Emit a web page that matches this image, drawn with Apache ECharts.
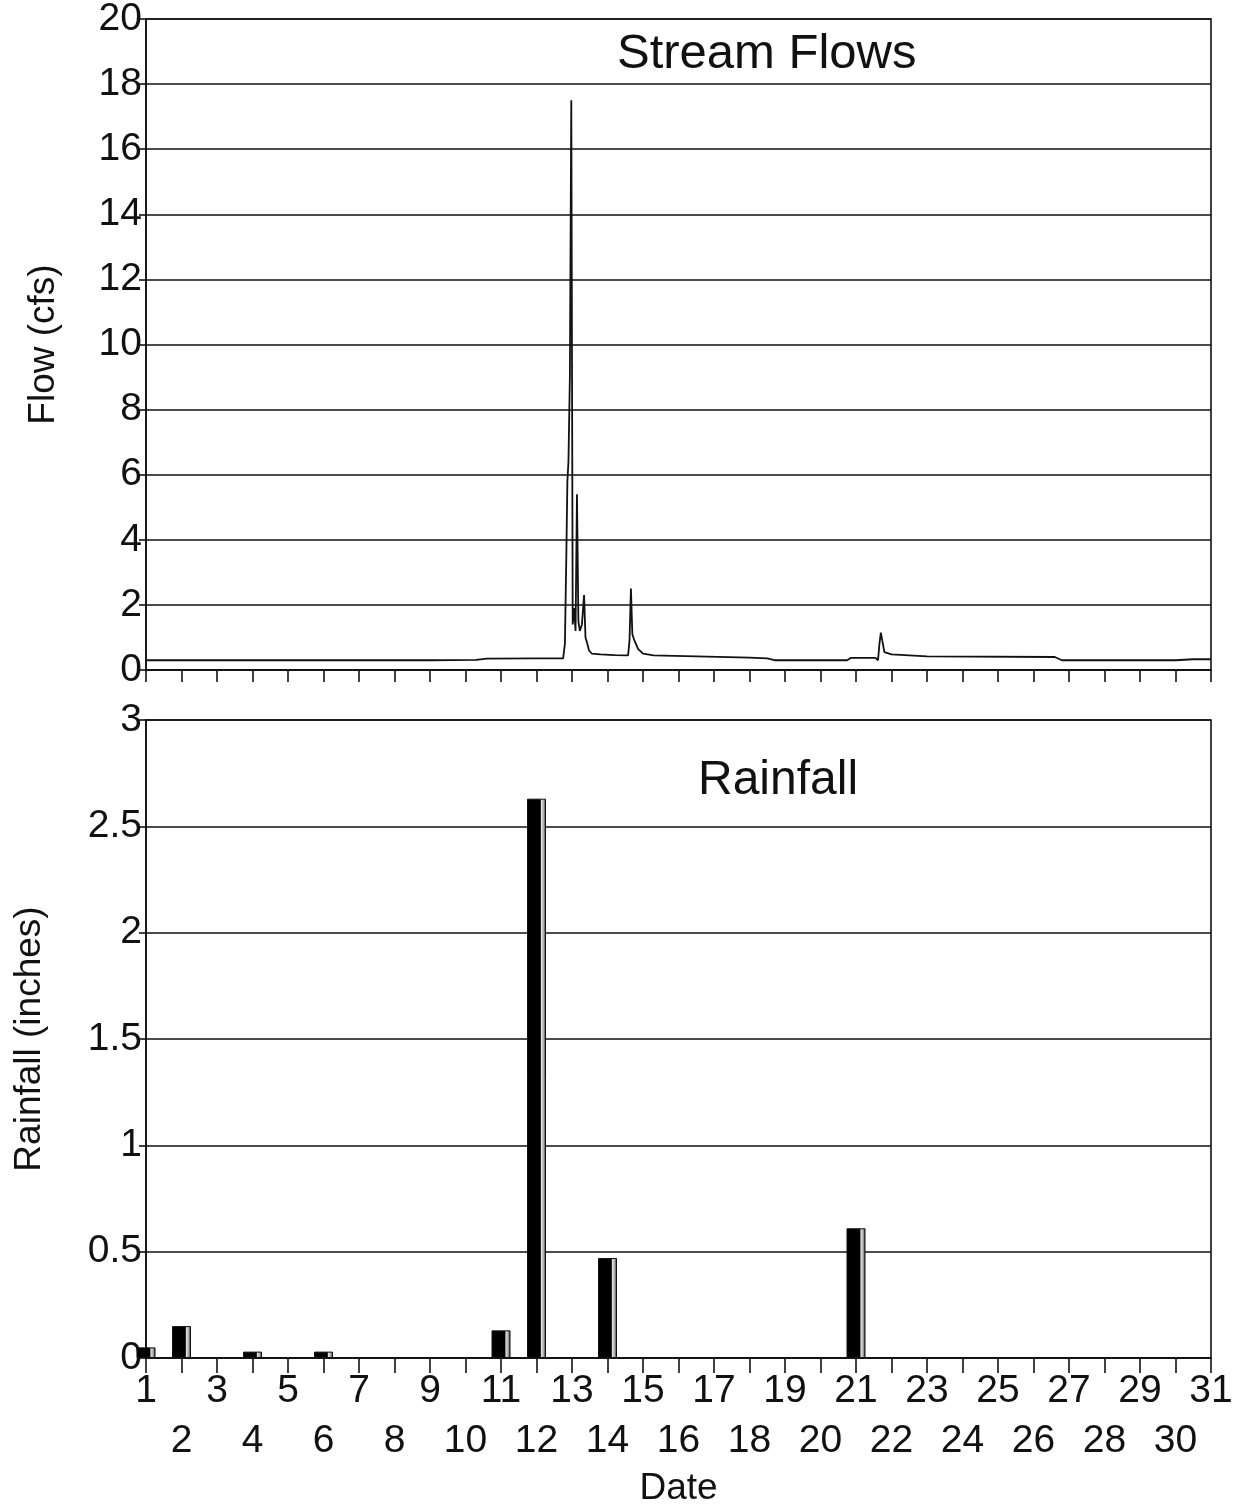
<!DOCTYPE html>
<html>
<head>
<meta charset="utf-8">
<script src="https://cdn.jsdelivr.net/npm/echarts@6/dist/echarts.min.js"></script>
<style>
html, body { margin: 0; background: #fff; }
#chart { width: 1241px; height: 1505px; }
</style>
</head>
<body>
<div id="chart"></div>
<script>
// stream flow readings (day of month, cfs)
const flowDays = [1, 3, 5, 7, 9, 10.3, 10.6, 12, 12.75, 12.8, 12.84, 12.87, 12.9, 12.94, 12.98, 13.02, 13.06, 13.1, 13.14, 13.18, 13.22, 13.28, 13.34, 13.38, 13.42, 13.48, 13.56, 13.8, 14.2, 14.58, 14.62, 14.66, 14.7, 14.76, 14.86, 15, 15.3, 16.5, 18, 18.5, 18.7, 20, 20.75, 20.85, 21.55, 21.62, 21.66, 21.7, 21.74, 21.8, 22, 23, 26.6, 26.8, 30, 30.5, 31];
const flowCfs = [0.3, 0.3, 0.3, 0.3, 0.3, 0.31, 0.35, 0.36, 0.36, 0.8, 3.5, 5.8, 6.4, 9, 17.5, 1.4, 1.9, 1.2, 5.4, 1.5, 1.2, 1.4, 2.3, 1.0, 0.85, 0.6, 0.5, 0.48, 0.46, 0.45, 0.9, 2.5, 1.1, 0.9, 0.65, 0.5, 0.45, 0.42, 0.38, 0.36, 0.3, 0.3, 0.3, 0.37, 0.37, 0.3, 0.8, 1.15, 0.9, 0.55, 0.48, 0.42, 0.4, 0.3, 0.3, 0.33, 0.33];

// daily rainfall (day of month, inches)
const rainDays = [1, 2, 4, 6, 11, 12, 14, 21];
const rainInches = [0.05, 0.15, 0.03, 0.03, 0.13, 2.63, 0.47, 0.61];

const ink = '#111';
const font = '"Liberation Sans", Arial, sans-serif';
const tickFont = 39;

const chart = echarts.init(document.getElementById('chart'));

const line = { color: ink, width: 1.6 };

// date axis for the rainfall panel; odd days on the first row, even days on the second
const dateAxis = (odd, extra) => Object.assign({
    gridIndex: 1, type: 'value', position: 'bottom', offset: 0,
    min: 1, max: 31, interval: 1,
    axisLabel: {
        fontSize: tickFont, color: ink, margin: odd ? 14 : 64,
        showMinLabel: true, showMaxLabel: true,
        formatter: v => ((v % 2 === 1) === odd ? String(v) : '')
    },
    splitLine: { show: false }
}, extra);

chart.setOption({
    animation: false,
    textStyle: { fontFamily: font, color: ink },
    title: [
        { text: 'Stream Flows', left: 612, top: 25, padding: 5,
          textStyle: { fontSize: 49, fontWeight: 'normal', color: ink, fontFamily: font } },
        { text: 'Rainfall', left: 693, top: 752, padding: 5,
          textStyle: { fontSize: 48, fontWeight: 'normal', color: ink, fontFamily: font } }
    ],
    grid: [
        { left: 146, right: 30, top: 19, height: 651, show: true, borderColor: ink, borderWidth: 1.6, outerBoundsMode: 'none' },
        { left: 146, right: 30, top: 720, height: 638, show: true, borderColor: ink, borderWidth: 1.6, outerBoundsMode: 'none' }
    ],
    xAxis: [
        {
            gridIndex: 0, type: 'value', min: 1, max: 31, interval: 1,
            axisLine: { lineStyle: line },
            axisTick: { length: 12, lineStyle: line },
            axisLabel: { show: false },
            splitLine: { show: false }
        },
        dateAxis(true, {
            name: 'Date', nameLocation: 'middle', nameGap: 112,
            nameTextStyle: { fontSize: 37, color: ink, fontFamily: font },
            axisLine: { lineStyle: line },
            axisTick: { length: 15, lineStyle: line }
        }),
        dateAxis(false, {
            axisLine: { show: false },
            axisTick: { show: false }
        })
    ],
    yAxis: [
        {
            gridIndex: 0, type: 'value', min: 0, max: 20, interval: 2,
            name: 'Flow (cfs)', nameLocation: 'middle', nameGap: 84,
            nameTextStyle: { fontSize: 37, color: ink, fontFamily: font },
            axisLine: { show: true, lineStyle: line },
            axisTick: { show: true, length: 7, lineStyle: line },
            axisLabel: { fontSize: tickFont, color: ink, margin: 4 },
            splitLine: { lineStyle: line }
        },
        {
            gridIndex: 1, type: 'value', min: 0, max: 3, interval: 0.5,
            name: 'Rainfall (inches)', nameLocation: 'middle', nameGap: 98,
            nameTextStyle: { fontSize: 37, color: ink, fontFamily: font },
            axisLine: { show: true, lineStyle: line },
            axisTick: { show: true, length: 7, lineStyle: line },
            axisLabel: { fontSize: tickFont, color: ink, margin: 4 },
            splitLine: { lineStyle: line }
        }
    ],
    series: [
        {
            name: 'Flow', type: 'line', xAxisIndex: 0, yAxisIndex: 0,
            data: flowDays.map((d, i) => [d, flowCfs[i]]),
            showSymbol: false,
            lineStyle: { color: ink, width: 1.8 }
        },
        {
            name: 'Rainfall', type: 'bar', xAxisIndex: 1, yAxisIndex: 1,
            data: rainDays.map((d, i) => [d, rainInches[i]]),
            barWidth: 19,
            itemStyle: {
                borderColor: ink, borderWidth: 1,
                color: new echarts.graphic.LinearGradient(0, 0, 1, 0, [
                    { offset: 0, color: '#000' },
                    { offset: 0.7, color: '#000' },
                    { offset: 0.76, color: '#e0e0e0' },
                    { offset: 0.88, color: '#aaa' },
                    { offset: 1, color: '#111' }
                ])
            }
        }
    ]
});
</script>
</body>
</html>
